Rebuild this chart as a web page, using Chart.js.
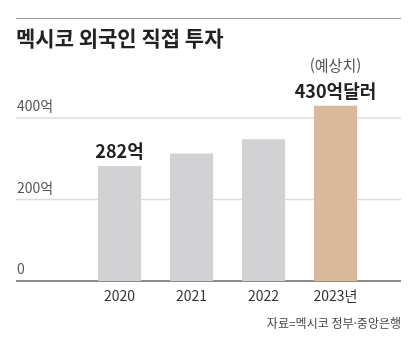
<!DOCTYPE html>
<html lang="ko">
<head>
<meta charset="utf-8">
<script src="https://cdn.jsdelivr.net/npm/chart.js@4/dist/chart.umd.min.js"></script>
<style>
  html, body { margin: 0; padding: 0; background: #fff; }
  #wrap { width: 412px; height: 344px; position: relative; }
</style>
</head>
<body>
<div id="wrap"><canvas id="c" width="412" height="344"></canvas></div>
<script>
// Mexico foreign direct investment (억 달러)
const years = ['2020', '2021', '2022', '2023년'];
const investment = [282, 313, 348, 430];
const barColors = ['#d2d2d4', '#d2d2d4', '#d2d2d4', '#d8b999'];
const gridValues = [0, 200, 400];
const gridLabels = ['0', '200억', '400억'];
const valueLabels = ['282억', '', '', '430억달러'];
const noteLabels = ['', '', '', '(예상치)'];

const FONT = '"Noto Sans CJK KR", "Noto Sans", sans-serif';

const decor = {
  id: 'decor',
  beforeDatasetsDraw(chart) {
    const ctx = chart.ctx;
    const y = chart.scales.y;
    ctx.save();
    // top rule
    ctx.strokeStyle = '#9a9a9a';
    ctx.lineWidth = 1;
    ctx.beginPath(); ctx.moveTo(16, 18.5); ctx.lineTo(401, 18.5); ctx.stroke();
    // title
    ctx.fillStyle = '#222';
    ctx.font = 'bold 21px ' + FONT;
    ctx.textBaseline = 'middle';
    ctx.textAlign = 'left';
    ctx.fillText('멕시코 외국인 직접 투자', 16, 38);
    // grid lines with labels above them
    gridValues.forEach((v, i) => {
      const py = y.getPixelForValue(v);
      ctx.strokeStyle = v === 0 ? '#8c8c8c' : '#dcdcdc';
      ctx.lineWidth = v === 0 ? 2 : 1.5;
      ctx.beginPath(); ctx.moveTo(16, py); ctx.lineTo(401, py); ctx.stroke();
      ctx.fillStyle = '#555';
      ctx.font = '14px ' + FONT;
      ctx.textBaseline = 'alphabetic';
      ctx.fillText(gridLabels[i], 17, py - 7);
    });
    ctx.restore();
  },
  afterDatasetsDraw(chart) {
    const ctx = chart.ctx;
    const meta = chart.getDatasetMeta(0);
    ctx.save();
    ctx.textAlign = 'center';
    ctx.textBaseline = 'middle';
    meta.data.forEach((bar, i) => {
      // category labels
      ctx.fillStyle = '#333';
      ctx.font = '14px ' + FONT;
      ctx.fillText(years[i], bar.x, 296);
      if (valueLabels[i]) {
        ctx.fillStyle = '#222';
        ctx.font = 'bold 18px ' + FONT;
        ctx.fillText(valueLabels[i], bar.x, bar.y - 15);
      }
      if (noteLabels[i]) {
        ctx.fillStyle = '#555';
        ctx.font = '15px ' + FONT;
        ctx.fillText(noteLabels[i], bar.x, bar.y - 40);
      }
    });
    // source
    ctx.textAlign = 'right';
    ctx.fillStyle = '#444';
    ctx.font = '12px ' + FONT;
    ctx.fillText('자료=멕시코 정부·중앙은행', 401, 323);
    ctx.restore();
  }
};

new Chart(document.getElementById('c'), {
  type: 'bar',
  data: {
    labels: years,
    datasets: [{
      data: investment,
      backgroundColor: barColors,
      borderWidth: 0,
      barPercentage: 0.6,
      categoryPercentage: 1
    }]
  },
  options: {
    responsive: false,
    animation: false,
    devicePixelRatio: 1,
    layout: { padding: { top: 77.25, bottom: 63, left: 83.5, right: 40.5 } },
    plugins: { legend: { display: false }, tooltip: { enabled: false } },
    scales: {
      x: { display: false },
      y: { display: false, min: 0, max: 500 }
    }
  },
  plugins: [decor]
});
</script>
</body>
</html>
